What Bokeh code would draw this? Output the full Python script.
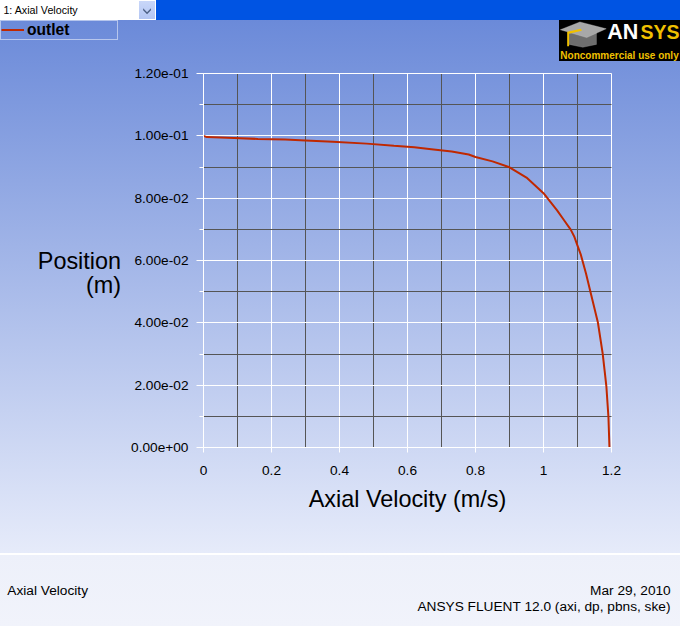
from bokeh.plotting import figure
from bokeh.models import (FixedTicker, CustomJSTickFormatter, Label, Legend, LegendItem,
                          PolyAnnotation, Range1d, Grid)
from bokeh.embed import file_html
from bokeh.resources import INLINE

# ---------------- data ----------------
velocity = [0.0, 0.01, 0.09, 0.16, 0.24, 0.30, 0.38, 0.48, 0.56, 0.62, 0.67, 0.73,
            0.78, 0.80, 0.85, 0.90, 0.95, 1.00, 1.04, 1.06, 1.08, 1.09, 1.10, 1.11,
            1.125, 1.138, 1.15, 1.16, 1.174, 1.18, 1.185, 1.191, 1.194]
position = [0.1000, 0.0996, 0.0993, 0.0990, 0.0988, 0.0985, 0.0981, 0.0975, 0.0968,
            0.0963, 0.0957, 0.0950, 0.0940, 0.0932, 0.0918, 0.0899, 0.0866, 0.0816,
            0.0761, 0.0730, 0.0699, 0.0678, 0.0648, 0.0618, 0.0558, 0.0500, 0.0446,
            0.0401, 0.0302, 0.0244, 0.0195, 0.0098, 0.0]

x_ticks = [0.0, 0.2, 0.4, 0.6, 0.8, 1.0, 1.2]
x_tick_labels = ["0", "0.2", "0.4", "0.6", "0.8", "1", "1.2"]
x_minor = [0.1, 0.3, 0.5, 0.7, 0.9, 1.1]
y_ticks = [0.0, 0.02, 0.04, 0.06, 0.08, 0.10, 0.12]
y_tick_labels = ["0.00e+00", "2.00e-02", "4.00e-02", "6.00e-02", "8.00e-02",
                 "1.00e-01", "1.20e-01"]
y_minor = [0.01, 0.03, 0.05, 0.07, 0.09, 0.11]
x_bounds = (0.0, 1.2)
y_bounds = (0.0, 0.12)

series_name = "outlet"
x_title = "Axial Velocity (m/s)"
y_title = "\nPosition\n(m)"
combo_text = "1: Axial Velocity"
footer_left = "Axial Velocity"
footer_date = "Mar 29, 2010"
footer_version = "ANSYS FLUENT 12.0 (axi, dp, pbns, ske)"

# ---------------- layout ----------------
W, H = 680, 626
KX, KY = W / 696.0, H / 642.0          # reference window -> page canvas
FL, FR, FT, FB = 203, 611, 73, 447      # where the plotting box sits on the canvas
FONT = "Liberation Sans"

# the frame fills the whole canvas; ranges are widened so that the
# plotting box (x 0..1.2, y 0..0.12) lands on FL..FR / FT..FB
kx = (FR - FL) / (x_bounds[1] - x_bounds[0])
ky = (FB - FT) / (y_bounds[1] - y_bounds[0])
x_range = Range1d(x_bounds[0] - FL / kx, x_bounds[1] + (W - FR) / kx)
y_range = Range1d(y_bounds[0] - (H - FB) / ky, y_bounds[1] + FT / ky)


def fs(px):
    return "%.1fpx" % (px * KY)


def SX(rx):            # reference x -> screen x (from canvas left)
    return rx * KX


def SY(ry):            # reference y (from top) -> screen y (from canvas bottom)
    return H - ry * KY


p = figure(width=W, height=H, output_backend="svg", toolbar_location=None,
           x_range=x_range, y_range=y_range, min_border=0,
           min_border_left=0, min_border_right=0, min_border_top=0, min_border_bottom=0)
p.background_fill_alpha = 0
p.border_fill_alpha = 0
p.outline_line_color = None

bg_layers = [
    "linear-gradient(#000000,#000000) 559px 20px / 121px 41px no-repeat",
    "linear-gradient(#c9d7f9,#b3c6f3) 139px 1px / 16px 18px no-repeat",
    "linear-gradient(#ffffff,#ffffff) 0px 0px / 156px 20px no-repeat",
    ("linear-gradient(to bottom, #0054e3 0px, #0054e3 20px, #6b8ad9 20px, "
     "#e6ebfa 553px, #ffffff 553px, #ffffff 555px, #edf0fa 555px, #f1f3fb 626px)"),
]
p.styles = {"background": ", ".join(bg_layers)}

# ---------------- axes ----------------
FMT = """
let best = 0, bd = Infinity;
for (let i = 0; i < tvals.length; i++) { const d = Math.abs(tvals[i] - tick); if (d < bd) { bd = d; best = i; } }
return tlabels[best];
"""
xa = p.xaxis[0]
xa.ticker = FixedTicker(ticks=x_ticks, minor_ticks=x_minor)
xa.formatter = CustomJSTickFormatter(args=dict(tvals=x_ticks, tlabels=x_tick_labels), code=FMT)
xa.bounds = x_bounds
xa.fixed_location = y_bounds[0]
ya = p.yaxis[0]
ya.ticker = FixedTicker(ticks=y_ticks, minor_ticks=y_minor)
ya.formatter = CustomJSTickFormatter(args=dict(tvals=y_ticks, tlabels=y_tick_labels), code=FMT)
ya.bounds = y_bounds
ya.fixed_location = x_bounds[0]

for ax in (xa, ya):
    ax.axis_line_color = "white"
    ax.axis_line_width = 1
    ax.major_tick_line_color = "white"
    ax.minor_tick_line_color = "white"
    ax.major_tick_in = 0
    ax.minor_tick_in = 0
    ax.major_label_text_font = FONT
    ax.major_label_text_font_size = fs(14)
    ax.major_label_text_color = "black"
    ax.axis_label_text_font = FONT
    ax.axis_label_text_font_size = fs(24)
    ax.axis_label_text_font_style = "normal"
    ax.axis_label_text_color = "black"

xa.major_tick_out = 5
xa.minor_tick_out = 0
xa.major_label_standoff = 13
xa.axis_label = x_title
xa.axis_label_standoff = 8

ya.major_tick_out = 7
ya.minor_tick_out = 4
ya.major_label_standoff = 8
ya.axis_label = y_title
ya.axis_label_orientation = "horizontal"
ya.axis_label_standoff = 7
ya.axis_label_text_line_height = 0.95

has_cross = "cross_bounds" in Grid.properties()
for g, cb in ((p.xgrid[0], y_bounds), (p.ygrid[0], x_bounds)):
    g.grid_line_color = "white"
    g.grid_line_width = 1
    g.minor_grid_line_color = "#555555"
    g.minor_grid_line_width = 1
    if has_cross:
        g.cross_bounds = cb

if not has_cross:
    # fallback: draw the grid from the tick arrays
    for g in (p.xgrid[0], p.ygrid[0]):
        g.visible = False
    p.segment(x0=x_minor, y0=[y_bounds[0]] * len(x_minor), x1=x_minor,
              y1=[y_bounds[1]] * len(x_minor), line_color="#555555", line_width=1)
    p.segment(x0=[x_bounds[0]] * len(y_minor), y0=y_minor, x1=[x_bounds[1]] * len(y_minor),
              y1=y_minor, line_color="#555555", line_width=1)
    p.segment(x0=x_ticks, y0=[y_bounds[0]] * len(x_ticks), x1=x_ticks,
              y1=[y_bounds[1]] * len(x_ticks), line_color="white", line_width=1)
    p.segment(x0=[x_bounds[0]] * len(y_ticks), y0=y_ticks, x1=[x_bounds[1]] * len(y_ticks),
              y1=y_ticks, line_color="white", line_width=1)

# ---------------- data line + legend ----------------
r = p.line(velocity, position, line_color="#c02800", line_width=2)

legend = Legend(items=[LegendItem(label=series_name, renderers=[r])],
                location=(SX(0), SY(41)), padding=0, spacing=0, margin=0,
                glyph_width=23, glyph_height=15, label_standoff=3,
                label_width=90, label_height=15,
                border_line_color="white", border_line_width=1,
                background_fill_alpha=0,
                label_text_font=FONT, label_text_font_size=fs(16),
                label_text_font_style="bold", label_text_color="black")
p.add_layout(legend)

# ---------------- window decorations ----------------
def lab(text, rx, ry, size, align="left", color="black", style="normal"):
    p.add_layout(Label(x=SX(rx), y=SY(ry), x_units="screen", y_units="screen",
                       text=text, text_font=FONT, text_font_size=size,
                       text_font_style=style, text_color=color,
                       text_baseline="middle", text_align=align))


def poly(rxs, rys, fill, line=None):
    p.add_layout(PolyAnnotation(xs=[SX(v) for v in rxs], ys=[SY(v) for v in rys],
                                xs_units="screen", ys_units="screen",
                                fill_color=fill, fill_alpha=1, line_color=line))


lab(combo_text, 3, 10, fs(11))
poly([146, 150, 154, 154, 150, 146], [8, 12, 8, 10, 14, 10], "#4d6185")

# ANSYS logo: mortarboard + wordmark
poly([582, 582, 596, 610, 610], [33, 45, 48, 45, 33], "#6e6e6e", "#9a9a9a")
poly([573, 593, 620, 600], [30, 22, 29, 38], "#a8a8a8", "#d0d0d0")
poly([594, 580, 580, 582, 582, 595], [29, 32, 47, 47, 34, 31], "#f0c000")
lab("AN", 621, 32, fs(22), color="white", style="bold")
lab("SYS", 655, 32.5, "19.5px", color="#f0c000", style="bold")
lab("Noncommercial use only", 573, 56, "10px", color="#f0c000", style="bold")

# footer
lab(footer_left, 7, 605, fs(14))
lab(footer_date, 686, 605, fs(14), align="right")
lab(footer_version, 686, 621, fs(14), align="right")

open("out.html", "w").write(file_html(p, INLINE))
